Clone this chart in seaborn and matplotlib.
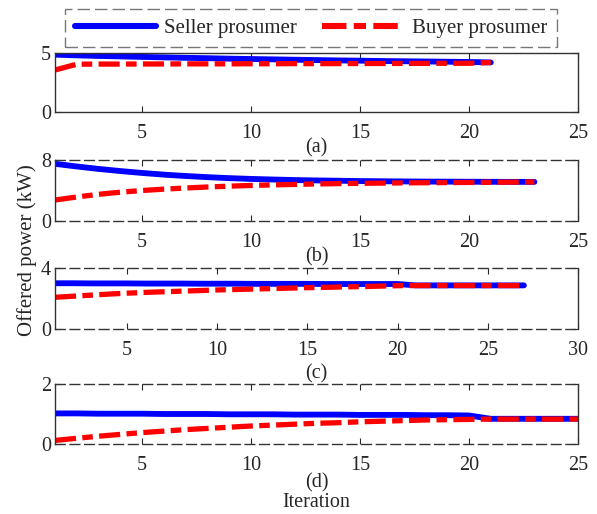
import seaborn as sns
import matplotlib.pyplot as plt
import pandas as pd

# offered power per iteration, four cases (a)-(d)
iter_a = list(range(1, 22))
seller_a = [4.86, 4.80, 4.75, 4.71, 4.67, 4.63, 4.59, 4.56, 4.52, 4.49, 4.46,
            4.43, 4.40, 4.37, 4.35, 4.32, 4.30, 4.28, 4.26, 4.24, 4.20]
buyer_a = [3.56, 4.05, 4.06, 4.06, 4.07, 4.07, 4.08, 4.08, 4.08, 4.09, 4.09,
           4.10, 4.10, 4.10, 4.11, 4.11, 4.12, 4.12, 4.13, 4.13, 4.20]

iter_b = list(range(1, 24))
seller_b = [7.50, 7.15, 6.83, 6.55, 6.30, 6.08, 5.90, 5.75, 5.62, 5.52, 5.44, 5.37,
            5.32, 5.28, 5.24, 5.21, 5.19, 5.17, 5.16, 5.15, 5.14, 5.13, 5.13]
buyer_b = [2.75, 3.15, 3.50, 3.78, 4.00, 4.18, 4.33, 4.46, 4.57, 4.66, 4.74, 4.80,
           4.86, 4.90, 4.94, 4.97, 5.00, 5.02, 5.04, 5.06, 5.08, 5.10, 5.12]

iter_c = list(range(1, 28))
seller_c = [3.00, 3.00, 2.99, 2.99, 2.99, 2.98, 2.98, 2.98, 2.97, 2.97, 2.97, 2.96,
            2.96, 2.96, 2.96, 2.95, 2.95, 2.95, 2.95, 2.95, 2.86, 2.86, 2.86, 2.86,
            2.86, 2.86, 2.86]
buyer_c = [2.08, 2.15, 2.22, 2.29, 2.35, 2.40, 2.44, 2.48, 2.52, 2.56, 2.59, 2.62,
           2.65, 2.68, 2.71, 2.73, 2.76, 2.78, 2.81, 2.84, 2.85, 2.85, 2.85, 2.85,
           2.85, 2.85, 2.85]

iter_d = list(range(1, 26))
seller_d = [1.02, 1.02, 1.01, 1.01, 1.01, 1.00, 1.00, 1.00, 0.99, 0.99, 0.99, 0.98,
            0.98, 0.98, 0.97, 0.97, 0.97, 0.96, 0.96, 0.95, 0.84, 0.84, 0.84, 0.84, 0.84]
buyer_d = [0.12, 0.19, 0.26, 0.32, 0.38, 0.43, 0.48, 0.52, 0.56, 0.60, 0.63, 0.66,
           0.69, 0.71, 0.74, 0.76, 0.78, 0.80, 0.81, 0.82, 0.83, 0.83, 0.83, 0.83, 0.83]

panels = [
    ("(a)", iter_a, seller_a, buyer_a, 5, 25),
    ("(b)", iter_b, seller_b, buyer_b, 8, 25),
    ("(c)", iter_c, seller_c, buyer_c, 4, 30),
    ("(d)\nIteration", iter_d, seller_d, buyer_d, 2, 25),
]
label_pads = [-3, -3, 3, -1]

sns.set_style("ticks")
plt.rcParams['font.family'] = ['Liberation Serif', 'DejaVu Serif']
plt.rcParams['font.size'] = 14

fig = plt.figure(figsize=(5.97, 5.14), dpi=100)
W, H = 597.0, 514.0
# (top px, bottom px) of each axes box
boxes = [(53, 112), (160, 221), (268, 329), (384, 444)]
dark = "#262626"

for i, (lab, it, sel, buy, ytop, xtop) in enumerate(panels):
    t, b = boxes[i]
    ax = fig.add_axes([55 / W, 1 - b / H, 523 / W, (b - t) / H])
    df = pd.DataFrame({"Iteration": it, "Seller": sel, "Buyer": buy})
    sns.lineplot(data=df, x="Iteration", y="Seller", ax=ax, color=(0, 0, 1),
                 linewidth=4.2, label="Seller prosumer", legend=False)
    sns.lineplot(data=df, x="Iteration", y="Buyer", ax=ax, color=(1, 0, 0),
                 linewidth=3.8, dashes=False, label="Buyer prosumer", legend=False)
    ax.lines[1].set_dashes((4, 1.2, 2, 1.2))
    ax.set_xlim(1, xtop)
    ax.set_ylim(0, ytop)
    ax.set_xticks(range(5, xtop + 1, 5))
    ax.set_yticks([0, ytop])
    ax.set_ylabel("")
    ax.set_xlabel(lab, labelpad=label_pads[i], linespacing=1.0,
                  color=dark, fontsize=14.5)
    ax.tick_params(direction="in", length=4, width=0.8, top=True, right=True,
                   colors=dark, labelsize=14.5, pad=3)
    ax.tick_params(axis="x", pad=8.5)
    for s in ax.spines.values():
        s.set_visible(True)
        s.set_color("#333333")
        s.set_linewidth(1.0)
    if i > 0:
        ax.spines["top"].set_linestyle((0, (7, 3.5)))
        ax.spines["bottom"].set_linestyle((0, (7, 3.5)))
    if i == 0:
        handles, labels = ax.get_legend_handles_labels()

leg = fig.legend(handles, labels, loc="center", bbox_to_anchor=(311 / W, 1 - 28 / H),
                 ncol=2, handlelength=3.9, handletextpad=0.4, columnspacing=1.2,
                 fontsize=15, frameon=True, fancybox=False, borderpad=0.45,
                 borderaxespad=0)
leg.get_frame().set_edgecolor("#555555")
leg.get_frame().set_linestyle((0, (9, 3.6)))
leg.get_frame().set_linewidth(1.0)
for h in leg.get_lines():
    h.set_linewidth(4.4)

fig.text(27 / W, 1 - 250 / H, "Offered power (kW)", rotation=90, ha="center",
         va="center", fontsize=15, color=dark)

plt.savefig("out.png", dpi=100)
